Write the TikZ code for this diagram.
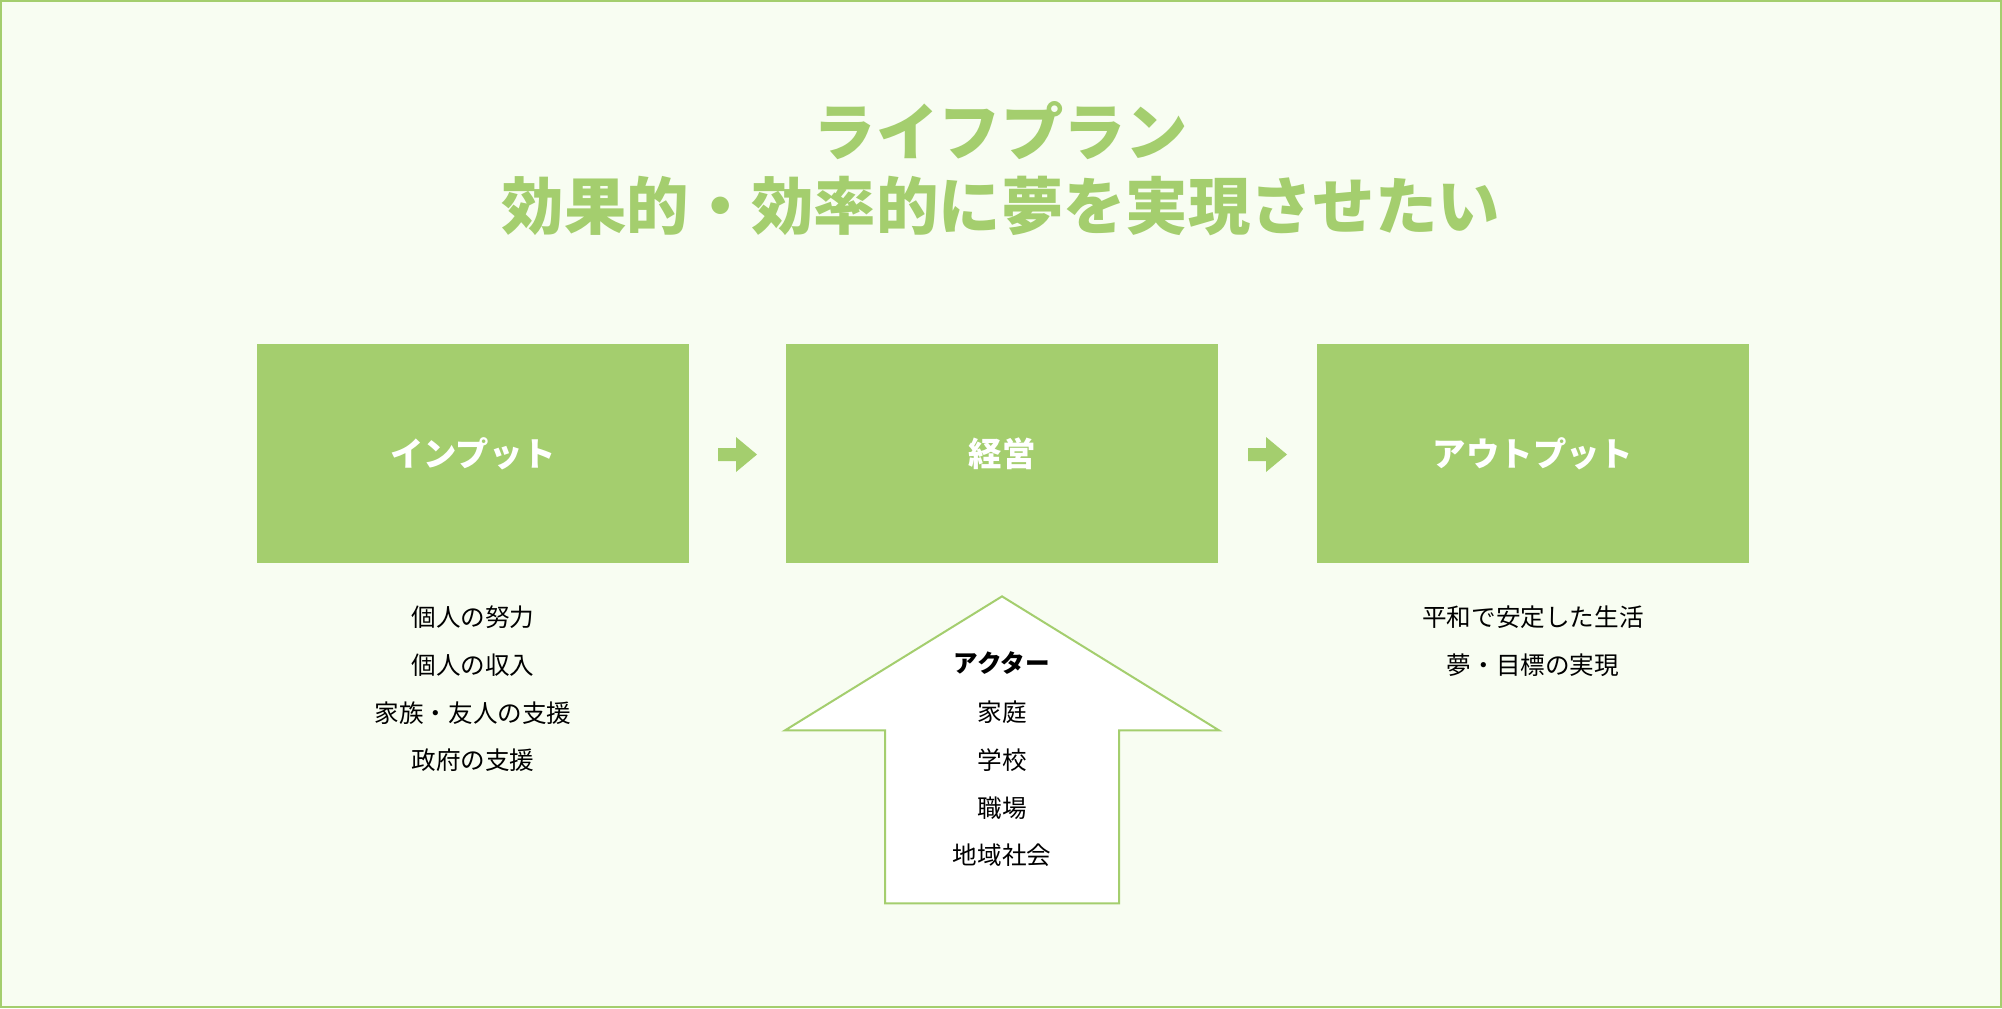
\documentclass[tikz,border=0pt]{standalone}
\usepackage{fontspec}
\setmainfont{Noto Sans CJK JP}
\usetikzlibrary{calc}

\definecolor{leaf}{HTML}{A4CE6E}
\definecolor{paper}{HTML}{F8FDF2}

\tikzset{
	stage/.style={fill=leaf, inner sep=0pt, minimum width=86.4mm, minimum height=43.8mm,
		text=white, font=\bfseries\fontsize{19}{19}\selectfont},
	heading/.style={text=leaf, font=\bfseries\fontsize{35.5}{35.5}\selectfont},
	item/.style={inner sep=0pt, font=\fontsize{14}{14}\selectfont},
	pics/flowarrow/.style={code={
		\fill [leaf] (-19.5,-6.5) -- ++(18,0) -- ++(0,-11) -- ++(21,17.5)
			-- ++(-21,17.5) -- ++(0,-11) -- ++(-18,0) -- cycle;
	}}
}

\begin{document}
\begin{tikzpicture}[x=0.2mm, y=-0.2mm]
	\useasboundingbox (0,0) rectangle (2002,1008);
	\draw [leaf, line width=0.4mm, fill=paper] (1,1) rectangle (2001,1007);

	% title
	\node [heading] (title1) at (1001,131) {ライフプラン};
	\node [heading] (title2) at (1001,206) {効果的・効率的に夢を実現させたい};

	% three stages
	\node [stage] (input) at (473,453.5) {インプット};
	\node [stage] (plan) at (1002,453.5) {経営};
	\node [stage] (output) at (1533,453.5) {アウトプット};

	\coordinate (a1) at ($(input.east)!0.5!(plan.west)+(0,1)$);
	\coordinate (a2) at ($(plan.east)!0.5!(output.west)+(0,1)$);
	\pic (arr1) at (a1) {flowarrow};
	\pic (arr2) at (a2) {flowarrow};

	% actors arrow
	\coordinate (tip) at ($(plan.south)+(0,33)$);
	\draw [leaf, line width=0.4mm, fill=white] (tip) -- ++(217,134) -- ++(-100,0) -- ++(0,173)
		-- ++(-234,0) -- ++(0,-173) -- ++(-100,0) -- cycle;

	% lists
	\node [item] (in1) at (473,617) {個人の努力};
	\node [item] (in2) at (473,665) {個人の収入};
	\node [item] (in3) at (473,713) {家族・友人の支援};
	\node [item] (in4) at (473,760) {政府の支援};

	\node [item, font=\bfseries\fontsize{14}{14}\selectfont] (act0) at (1002,663) {アクター};
	\node [item] (act1) at (1002,712) {家庭};
	\node [item] (act2) at (1002,760) {学校};
	\node [item] (act3) at (1002,808) {職場};
	\node [item] (act4) at (1002,855) {地域社会};

	\node [item] (out1) at (1533,617) {平和で安定した生活};
	\node [item] (out2) at (1533,665) {夢・目標の実現};
\end{tikzpicture}
\end{document}
